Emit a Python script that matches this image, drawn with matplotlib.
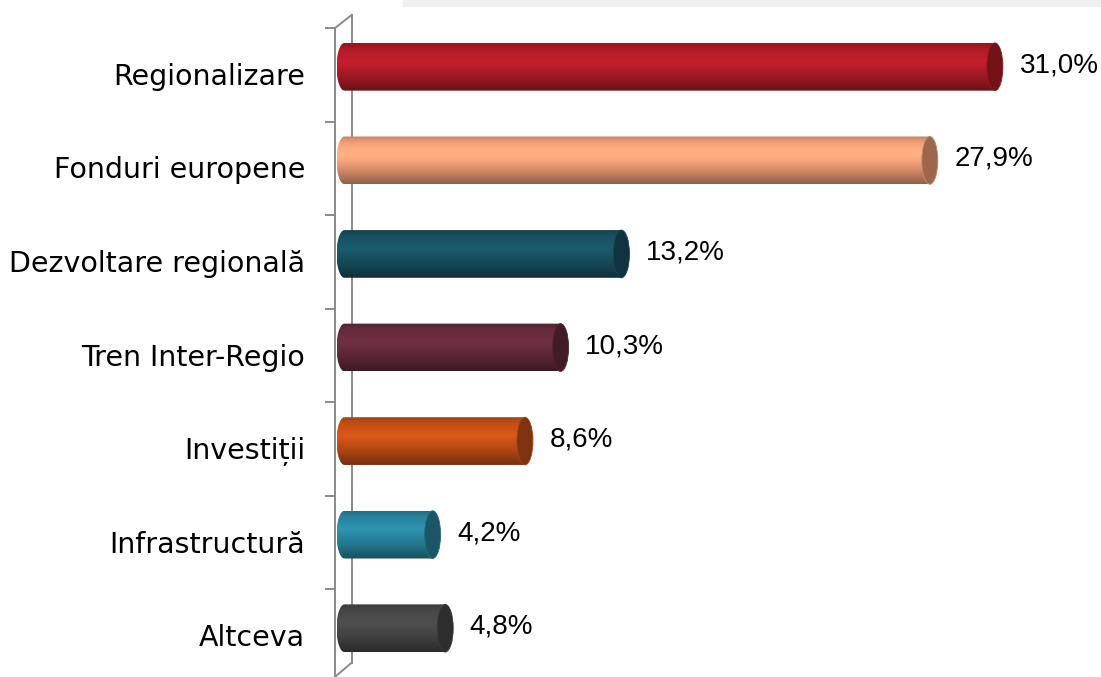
import numpy as np
import matplotlib
matplotlib.use("Agg")
import matplotlib.pyplot as plt
from matplotlib.patches import Ellipse, PathPatch, Rectangle
from matplotlib.path import Path
from matplotlib.colors import to_rgb
from matplotlib.transforms import ScaledTranslation

categories = ["Regionalizare", "Fonduri europene", "Dezvoltare regională",
              "Tren Inter-Regio", "Investiții", "Infrastructură", "Altceva"]
values = [31.0, 27.9, 13.2, 10.3, 8.6, 4.2, 4.8]
value_labels = ["31,0%", "27,9%", "13,2%", "10,3%", "8,6%", "4,2%", "4,8%"]
colors = ["#b81d29", "#fba67c", "#1a5466", "#692c3c", "#cc5217", "#2a8aa6", "#4a4a4a"]

W, H = 1101, 677
PX = 20.98   # pixels per percent
X0 = 344.5   # pixel position of 0 %
AX_L = 320   # left edge of the axes in pixels

fig = plt.figure(figsize=(W / 100, H / 100), dpi=100)
ax = fig.add_axes([AX_L / W, 2 / H, (W - AX_L) / W, 655 / H])
for s in ax.spines.values():
    s.set_visible(False)
ax.set_xticks([])

# faint band at top (remains of plot area)
fig.patches.append(Rectangle((403 / W, 1 - 5.5 / H), 1, 1, transform=fig.transFigure,
                             color="#f0f0f0", zorder=0))

bar_h = 0.51
rx = 8 / PX  # half width of the end ellipses, in data units

# brightness profile top -> bottom for the cylinder shading
prof_y = np.linspace(0, 1, 64)
shade = np.interp(prof_y, [0, 0.12, 0.38, 0.7, 1.0], [0.8, 0.95, 1.08, 0.85, 0.58])

for i, (v, c) in enumerate(zip(values, colors)):
    rgb = np.array(to_rgb(c))
    img = np.clip(shade[:, None, None] * rgb[None, None, :], 0, 1)
    img = np.repeat(img, 2, axis=1)
    top, bot = i - bar_h / 2, i + bar_h / 2
    # body outline: rounded left end + straight body to v
    t = np.linspace(np.pi / 2, 3 * np.pi / 2, 40)
    arc = np.column_stack([rx * np.cos(t), i - bar_h / 2 * np.sin(t)])
    verts = np.vstack([arc, [[v, bot], [v, top], [0, top]]])
    clip = PathPatch(Path(verts, closed=True), facecolor="none", edgecolor="none",
                     transform=ax.transData)
    ax.add_patch(clip)
    im = ax.imshow(img, extent=(-rx, v, bot, top), aspect="auto",
                   interpolation="bilinear", zorder=2)
    im.set_clip_path(clip)
    cap = np.clip(rgb * 0.62, 0, 1)
    ax.add_patch(Ellipse((v, i), 2 * rx, bar_h, facecolor=cap,
                         edgecolor=np.clip(rgb * 0.8, 0, 1), lw=0.6, zorder=3))
    ax.annotate(value_labels[i], xy=(v, i), xytext=(rx * PX * 0.72 + 12, 1),
                textcoords="offset points", va="center", ha="left",
                fontsize=20, family="Liberation Sans", color="#000000")

# 3D wall on the left
xf, xb = -9.5 / PX, 7 / PX
wall_kw = dict(color="#8a8a8a", lw=1.4, clip_on=False, zorder=1)
ax.plot([xf, xf], [-0.414, 7.0], **wall_kw)
ax.plot([xf, xb], [-0.414, -0.553], **wall_kw)
ax.plot([xb, xb], [-0.553, 6.37], **wall_kw)
ax.plot([xb, xf], [6.37, 6.52], **wall_kw)
for k in range(len(categories) + 1):
    yk = k - 0.5 + 0.086
    ax.plot([xf - 9 / PX, xf], [yk, yk], **wall_kw)

ax.set_xlim(-(X0 - AX_L) / PX, (W - X0) / PX)
ax.set_ylim(len(categories) - 0.5, -0.5)

ax.set_yticks(range(len(categories)), categories)
ax.tick_params(axis="y", length=0, pad=10.8, labelsize=20.5)
off = ScaledTranslation(0, -7 / 100, fig.dpi_scale_trans)
for lbl in ax.get_yticklabels():
    lbl.set_family("DejaVu Sans")
    lbl.set_transform(lbl.get_transform() + off)

fig.savefig("out.png", dpi=100)
